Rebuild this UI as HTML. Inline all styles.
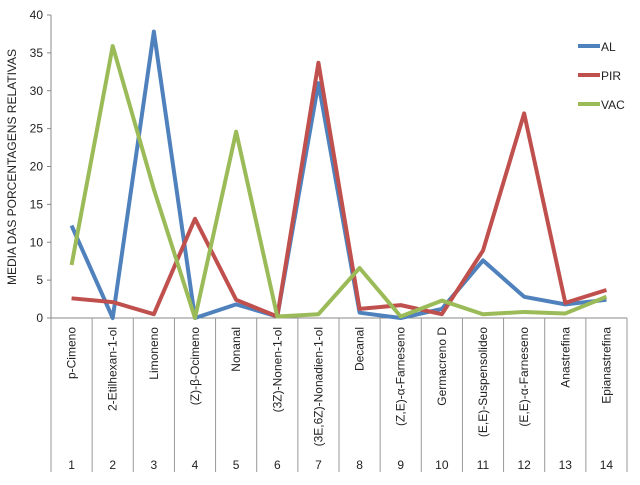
<!DOCTYPE html>
<html><head><meta charset="utf-8"><style>
body{margin:0;background:#fff}
svg text{font-family:"Liberation Sans",sans-serif;fill:#222}
</style></head><body>
<svg id="c" width="640" height="480"></svg>
<script>
const categories=["p-Cimeno","2-Etilhexan-1-ol","Limoneno","(Z)-β-Ocimeno","Nonanal","(3Z)-Nonen-1-ol","(3E,6Z)-Nonadien-1-ol","Decanal","(Z,E)-α-Farneseno","Germacreno D","(E,E)-Suspensolideo","(E,E)-α-Farneseno","Anastrefina","Epianastrefina"];
const seriesAL=[12.2,0,37.8,0,1.8,0.2,31,0.7,0,1.2,7.6,2.8,1.8,2.4];
const seriesPIR=[2.6,2.1,0.5,13.1,2.4,0.2,33.7,1.2,1.7,0.5,8.9,27,2,3.7];
const seriesVAC=[7,35.9,17,0,24.6,0.2,0.5,6.6,0.2,2.3,0.5,0.8,0.6,2.8];
const yTicks=[0,5,10,15,20,25,30,35,40];
const ns="http://www.w3.org/2000/svg",svg=document.getElementById('c');
const x0=51,x1=627,y0=318,yTop=15,n=categories.length,bw=(x1-x0)/n;
const X=i=>x0+bw*(i+0.5), Y=v=>y0-(v/40)*(y0-yTop);
function el(t,a,p){const e=document.createElementNS(ns,t);for(const k in a)e.setAttribute(k,a[k]);(p||svg).appendChild(e);return e;}
const ax=el('line',{x1:x0,y1:yTop,x2:x0,y2:472,stroke:'#888'});


yTicks.forEach(t=>{
 const l=el('line',{x1:x0-4,x2:x0,y1:Y(t),y2:Y(t),stroke:'#888'});
 
 
 const tx=el('text',{x:x0-8,y:Y(t)+4,'text-anchor':'end','font-size':12});tx.textContent=t;
 
 
});
const xa=el('line',{x1:x0,y1:y0,x2:x1,y2:y0,stroke:'#888'});


for(let i=0;i<=n;i++){
 const l=el('line',{x1:x0+bw*i,x2:x0+bw*i,y1:y0,y2:472,stroke:'#999'});
 
 
}
categories.forEach((c,i)=>{
 const t=el('text',{transform:`translate(${X(i)+4},327) rotate(-90)`,'text-anchor':'end','font-size':12});t.textContent=c;
 
 
 const nn=el('text',{x:X(i),y:469,'text-anchor':'middle','font-size':12});nn.textContent=i+1;
 
 
});
const yt=el('text',{transform:'translate(16,167) rotate(-90)','text-anchor':'middle','font-size':12});yt.textContent='MEDIA DAS PORCENTAGENS RELATIVAS';


const series=[["AL",seriesAL,"#4F81BD"],["PIR",seriesPIR,"#C0504D"],["VAC",seriesVAC,"#9BBB59"]];
series.forEach(([name,vals,col],k)=>{
 const p=el('polyline',{points:vals.map((v,i)=>X(i)+','+Y(v)).join(' '),fill:'none',stroke:col,'stroke-width':4,'stroke-linejoin':'round'});
 
 
 const ly=46+k*29;
 const g=el('g',{});
 
 
 el('line',{x1:578,x2:600,y1:ly,y2:ly,stroke:col,'stroke-width':4},g);
 const t=el('text',{x:601,y:ly+5,'font-size':12},g);t.textContent=name;
});
</script>
</body></html>
